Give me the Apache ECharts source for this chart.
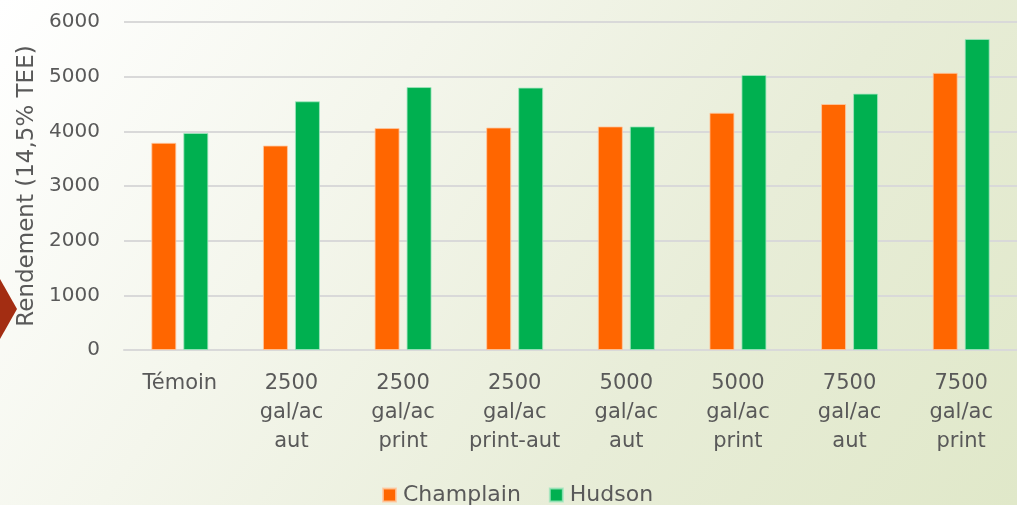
<!DOCTYPE html>
<html>
<head>
<meta charset="utf-8">
<script src="https://cdn.jsdelivr.net/npm/echarts@6/dist/echarts.min.js"></script>
<style>
html,body{margin:0;padding:0;width:1017px;height:505px;overflow:hidden;}
#c{width:1017px;height:505px;background:linear-gradient(125deg,#ffffff 0%,#f4f6ec 33%,#e8edd8 66%,#e0e8c9 100%);}
</style>
</head>
<body>
<div id="c"></div>
<script>
const categories = ['Témoin', '2500\ngal/ac\naut', '2500\ngal/ac\nprint', '2500\ngal/ac\nprint-aut', '5000\ngal/ac\naut', '5000\ngal/ac\nprint', '7500\ngal/ac\naut', '7500\ngal/ac\nprint'];
const champlain = [3790, 3740, 4060, 4070, 4090, 4340, 4500, 5070];
const hudson = [3970, 4550, 4810, 4800, 4090, 5030, 4690, 5690];
const yTicks = [0, 1000, 2000, 3000, 4000, 5000, 6000];
const seriesNames = ['Champlain', 'Hudson'];

const FONT = 'DejaVu Sans';
const TXT = '#595959';
const chart = echarts.init(document.getElementById('c'));
chart.setOption({
  animation: false,
  backgroundColor: 'transparent',
  textStyle: {fontFamily: FONT},
  graphic: [{
    type: 'polygon',
    shape: {points: [[0, 279], [17, 309], [0, 339]]},
    style: {fill: '#a32d12'}
  }],
  legend: {
    left: 377, top: 479,
    icon: 'rect', itemWidth: 13, itemHeight: 13, itemGap: 28,
    textStyle: {color: TXT, fontSize: 22, fontFamily: FONT, padding: [0, 0, 0, 2]},
    data: seriesNames
  },
  grid: {left: 124, top: 22, width: 902, height: 328, containLabel: false},
  xAxis: {
    type: 'category',
    data: categories,
    axisLine: {lineStyle: {color: '#d9d9d9', width: 2}},
    axisTick: {show: false},
    axisLabel: {color: TXT, fontSize: 21, lineHeight: 29, margin: 19, interval: 0, fontFamily: FONT}
  },
  yAxis: {
    type: 'value',
    min: yTicks[0], max: yTicks[yTicks.length - 1], interval: 1000,
    name: 'Rendement (14,5% TEE)',
    nameLocation: 'middle',
    nameGap: 81,
    nameRotate: 90,
    nameTextStyle: {color: TXT, fontSize: 23, fontFamily: FONT},
    axisLine: {show: false},
    axisTick: {show: false},
    axisLabel: {color: TXT, fontSize: 20, margin: 24, fontFamily: FONT, formatter: v => String(v)},
    splitLine: {lineStyle: {color: '#d9d9d9', width: 2}}
  },
  series: [
    {name: seriesNames[0], type: 'bar', data: champlain, barWidth: 25, barGap: '28%',
     itemStyle: {color: '#ff6600', borderColor: 'rgba(255,200,160,0.8)', borderWidth: 1}},
    {name: seriesNames[1], type: 'bar', data: hudson, barWidth: 25, barGap: '28%',
     itemStyle: {color: '#00b050', borderColor: 'rgba(160,230,190,0.8)', borderWidth: 1}}
  ]
});
</script>
</body>
</html>
